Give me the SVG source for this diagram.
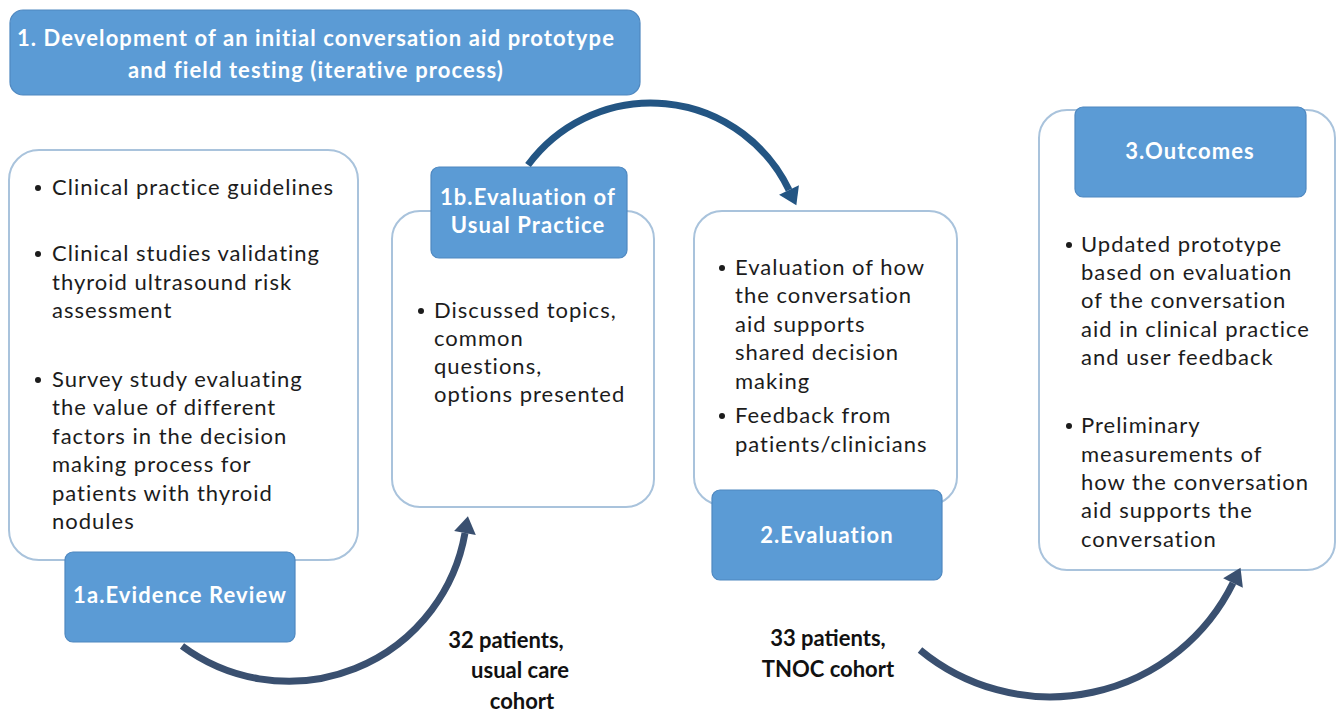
<svg xmlns="http://www.w3.org/2000/svg" width="1342" height="716" viewBox="0 0 1342 716">
  <style>
    .panel { fill: #ffffff; stroke: #a9c3dc; stroke-width: 2; }
    .tag { fill: #5b9bd5; stroke: #4f88c0; stroke-width: 1.2; }
    .tag-text { font-family: Lato, "Liberation Sans", sans-serif; font-weight: bold; font-size: 22px; letter-spacing: 1.1px; fill: #ffffff; text-anchor: middle; }
    .body { font-family: Lato, "Liberation Sans", sans-serif; font-size: 22px; letter-spacing: 1px; fill: #1c1c1c; }
    .note { font-family: Lato, "Liberation Sans", sans-serif; font-weight: bold; font-size: 22px; fill: #111111; text-anchor: middle; }
    .dot { fill: #1c1c1c; }
    .arc { fill: none; stroke-width: 7; stroke-linecap: butt; }
  </style>
  <defs>
    <marker id="headDark" markerUnits="userSpaceOnUse" markerWidth="24" markerHeight="26" refX="0" refY="12" orient="auto" viewBox="0 0 24 24" overflow="visible">
      <path d="M0,1 L17,12 L0,23 Z" fill="#3a5070"/>
    </marker>
    <marker id="headBlue" markerUnits="userSpaceOnUse" markerWidth="24" markerHeight="26" refX="0" refY="12" orient="auto" viewBox="0 0 24 24" overflow="visible">
      <path d="M0,1 L17,12 L0,23 Z" fill="#235583"/>
    </marker>
  </defs>

  <rect width="1342" height="716" fill="#ffffff"/>

  <!-- Header: stage 1 -->
  <g id="stage1">
    <rect class="tag" x="10" y="10" width="630" height="85" rx="13"/>
    <text class="tag-text" font-size="23" x="316" y="46">1. Development of an initial conversation aid prototype</text>
    <text class="tag-text" font-size="23" x="316" y="78">and field testing (iterative process)</text>
  </g>

  <!-- 1a Evidence review -->
  <g id="evidence-review">
    <rect class="panel" x="9" y="150" width="349" height="410" rx="30"/>
    <circle class="dot" cx="38" cy="188" r="3"/>
    <text class="body" x="52" y="195">Clinical practice guidelines</text>
    <circle class="dot" cx="38" cy="254" r="3"/>
    <text class="body" x="52" y="261">Clinical studies validating</text>
    <text class="body" x="52" y="290">thyroid ultrasound risk</text>
    <text class="body" x="52" y="318">assessment</text>
    <circle class="dot" cx="38" cy="380" r="3"/>
    <text class="body" x="52" y="387">Survey study evaluating</text>
    <text class="body" x="52" y="415">the value of different</text>
    <text class="body" x="52" y="444">factors in the decision</text>
    <text class="body" x="52" y="472">making process for</text>
    <text class="body" x="52" y="501">patients with thyroid</text>
    <text class="body" x="52" y="529">nodules</text>
    <rect class="tag" x="65" y="552" width="230" height="90" rx="8"/>
    <text class="tag-text" x="180" y="603">1a.Evidence Review</text>
  </g>

  <!-- 1b Evaluation of usual practice -->
  <g id="usual-practice">
    <rect class="panel" x="392" y="211" width="262" height="296" rx="28"/>
    <circle class="dot" cx="421" cy="311" r="3"/>
    <text class="body" x="434" y="318">Discussed topics,</text>
    <text class="body" x="434" y="346">common</text>
    <text class="body" x="434" y="374">questions,</text>
    <text class="body" x="434" y="402">options presented</text>
    <rect class="tag" x="431" y="167" width="196" height="91" rx="8"/>
    <text class="tag-text" x="528" y="205">1b.Evaluation of</text>
    <text class="tag-text" x="528" y="233">Usual Practice</text>
  </g>

  <!-- 2 Evaluation -->
  <g id="evaluation">
    <rect class="panel" x="694" y="211" width="263" height="294" rx="28"/>
    <circle class="dot" cx="722" cy="268" r="3"/>
    <text class="body" x="735" y="275">Evaluation of how</text>
    <text class="body" x="735" y="303">the conversation</text>
    <text class="body" x="735" y="332">aid supports</text>
    <text class="body" x="735" y="360">shared decision</text>
    <text class="body" x="735" y="389">making</text>
    <circle class="dot" cx="722" cy="416" r="3"/>
    <text class="body" x="735" y="423">Feedback from</text>
    <text class="body" x="735" y="452">patients/clinicians</text>
    <rect class="tag" x="712" y="490" width="230" height="90" rx="8"/>
    <text class="tag-text" x="827" y="543">2.Evaluation</text>
  </g>

  <!-- 3 Outcomes -->
  <g id="outcomes">
    <rect class="panel" x="1039" y="110" width="296" height="460" rx="28"/>
    <rect class="tag" x="1075" y="107" width="231" height="90" rx="8"/>
    <text class="tag-text" x="1190" y="159">3.Outcomes</text>
    <circle class="dot" cx="1069" cy="245" r="3"/>
    <text class="body" x="1081" y="252">Updated prototype</text>
    <text class="body" x="1081" y="280">based on evaluation</text>
    <text class="body" x="1081" y="308">of the conversation</text>
    <text class="body" x="1081" y="337">aid in clinical practice</text>
    <text class="body" x="1081" y="365">and user feedback</text>
    <circle class="dot" cx="1069" cy="426" r="3"/>
    <text class="body" x="1081" y="433">Preliminary</text>
    <text class="body" x="1081" y="462">measurements of</text>
    <text class="body" x="1081" y="490">how the conversation</text>
    <text class="body" x="1081" y="518">aid supports the</text>
    <text class="body" x="1081" y="547">conversation</text>
  </g>

  <!-- Cohort labels -->
  <g id="cohort-usual">
    <text class="note" x="506" y="648">32 patients,</text>
    <text class="note" x="520" y="678">usual care</text>
    <text class="note" x="522" y="709">cohort</text>
  </g>
  <g id="cohort-tnoc">
    <text class="note" x="828" y="646">33 patients,</text>
    <text class="note" x="828" y="677">TNOC cohort</text>
  </g>

  <!-- Curved connectors between stages -->
  <g id="connectors">
    <path class="arc" stroke="#3a5070" d="M182,646 A179,179 0 0 0 465,533" marker-end="url(#headDark)"/>
    <path class="arc" stroke="#235583" d="M528,165 A153,153 0 0 1 789,190" marker-end="url(#headBlue)"/>
    <path class="arc" stroke="#3a5070" d="M920,650 A204,204 0 0 0 1233,583" marker-end="url(#headDark)"/>
  </g>
</svg>
